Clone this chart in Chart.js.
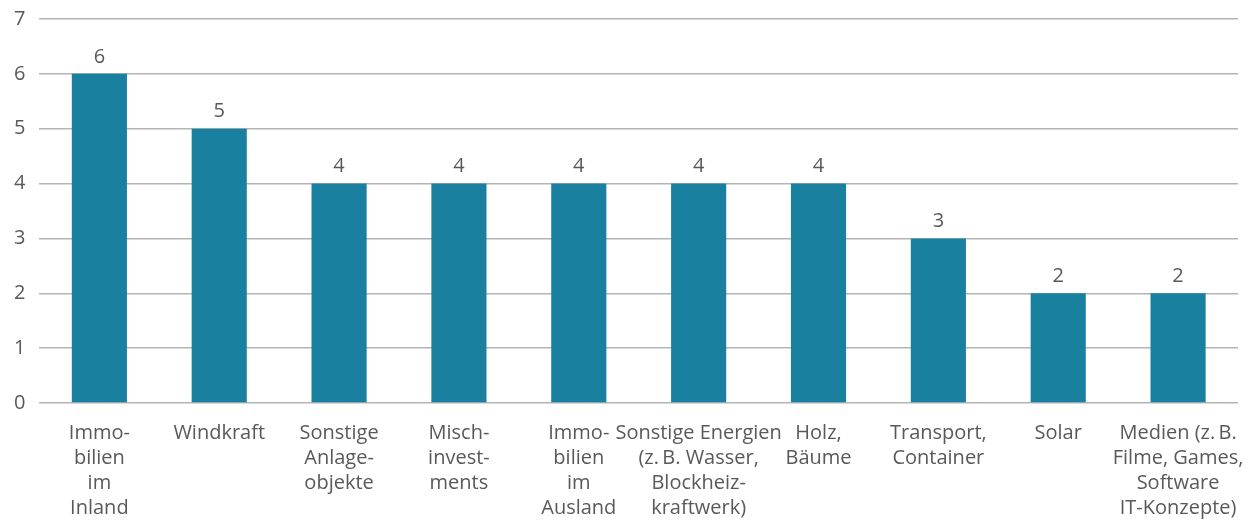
<!DOCTYPE html>
<html>
<head>
<meta charset="utf-8">
<script src="https://cdn.jsdelivr.net/npm/chart.js@4"></script>
<style>
  html, body { margin: 0; padding: 0; background: #ffffff; }
  #wrap { width: 1252px; height: 520px; }
</style>
</head>
<body>
<div id="wrap"><canvas id="chart"></canvas></div>
<script>
const kategorien = [
    ['Immo-', 'bilien', 'im', 'Inland'],
    ['Windkraft'],
    ['Sonstige', 'Anlage-', 'objekte'],
    ['Misch-', 'invest-', 'ments'],
    ['Immo-', 'bilien', 'im', 'Ausland'],
    ['Sonstige Energien', '(z.\u2009B. Wasser,', 'Blockheiz-', 'kraftwerk)'],
    ['Holz,', 'Bäume'],
    ['Transport,', 'Container'],
    ['Solar'],
    ['Medien (z.\u2009B.', 'Filme, Games,', 'Software', 'IT-Konzepte)']
];
const anzahl = [6, 5, 4, 4, 4, 4, 4, 3, 2, 2];
const yTicks = [0, 1, 2, 3, 4, 5, 6, 7];

const textFarbe = '#595959';
const schrift = '"Open Sans", "Noto Sans", sans-serif';

// Werte über den Balken
const wertLabels = {
    id: 'wertLabels',
    afterDatasetsDraw(chart) {
        const ctx = chart.ctx;
        const meta = chart.getDatasetMeta(0);
        ctx.save();
        ctx.font = '20px ' + schrift;
        ctx.fillStyle = textFarbe;
        ctx.textAlign = 'center';
        ctx.textBaseline = 'bottom';
        meta.data.forEach((bar, i) => {
            ctx.fillText(String(anzahl[i]), bar.x, bar.y - 7);
        });
        ctx.restore();
    }
};

const ctx = document.getElementById('chart').getContext('2d');

new Chart(ctx, {
    type: 'bar',
    data: {
        labels: kategorien,
        datasets: [{
            data: anzahl,
            backgroundColor: '#1a80a0',
            categoryPercentage: 1,
            barPercentage: 0.46
        }]
    },
    options: {
        responsive: true,
        maintainAspectRatio: false,
        animation: false,
        layout: {
            padding: { top: 0, right: 14, bottom: -19, left: 0 }
        },
        plugins: {
            legend: { display: false },
            tooltip: { enabled: false }
        },
        scales: {
            x: {
                grid: { display: false, drawTicks: false },
                border: { display: false },
                ticks: {
                    color: textFarbe,
                    font: { family: schrift, size: 20, lineHeight: 1.25 },
                    autoSkip: false,
                    maxRotation: 0,
                    minRotation: 0,
                    padding: 18
                },
                afterFit(scale) {
                    // lange Beschriftungen dürfen über den Rand ragen
                    scale.paddingLeft = 0;
                    scale.paddingRight = 0;
                }
            },
            y: {
                min: 0,
                max: 7,
                afterBuildTicks(axis) {
                    axis.ticks = yTicks.map(v => ({ value: v }));
                },
                grid: {
                    color: '#b4b4b4',
                    lineWidth: 1.5,
                    drawTicks: false
                },
                border: { display: false },
                ticks: {
                    color: textFarbe,
                    font: { family: schrift, size: 20, lineHeight: 0.5 },
                    padding: 14
                }
            }
        }
    },
    plugins: [wertLabels]
});
</script>
</body>
</html>
